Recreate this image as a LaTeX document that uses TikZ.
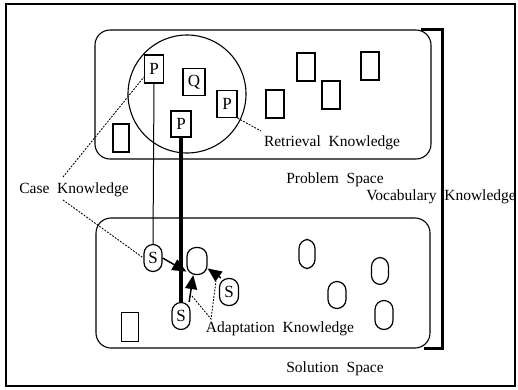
\documentclass[tikz,border=0pt]{standalone}
\usepackage{fontspec}
\setmainfont{Liberation Serif}
\usetikzlibrary{arrows.meta}
\begin{document}
\begin{tikzpicture}[x=1pt,y=-1pt,
  thin line/.style={line width=1pt},
  sq/.style={draw,line width=1.2pt,minimum width=18pt,minimum height=28pt,inner sep=0pt,font=\fontsize{17}{17}\selectfont},
  ov/.style={draw,line width=1.2pt,rounded corners=9pt,minimum width=18pt,minimum height=27pt,inner sep=0pt,font=\fontsize{17}{17}\selectfont},
  lbl/.style={inner sep=0pt,font=\fontsize{15.5}{16}\selectfont},
  dots/.style={line width=0.9pt,dash pattern=on 1.8pt off 1.4pt},
  bigarrow/.style={line width=1.5pt,-{Triangle[length=14pt,width=12pt]}}]
\useasboundingbox (0,0) rectangle (518,389);
\fill[white] (0,0) rectangle (518,389);
\node[draw,line width=1.2pt,minimum width=509pt,minimum height=382pt,inner sep=0pt] (frame) at (260.5,195) {};
% spaces
\node[draw,line width=1.1pt,rounded corners=15pt,minimum width=336pt,minimum height=129pt,inner sep=0pt] (prob) at (263,94.5) {};
\node[draw,line width=1.1pt,rounded corners=15pt,minimum width=334pt,minimum height=130pt,inner sep=0pt] (sol) at (263,283) {};
% bracket
\coordinate (bt) at (421,29.5);
\coordinate (bb) at (424,348);
\draw[line width=3pt] (bt) -| (442,348) -- (bb);
% retrieval circle
\node[draw,circle,line width=1.1pt,minimum size=118pt,inner sep=0pt] (circ) at (187,94) {};
% problem boxes
\node[sq,minimum width=19pt] (p1) at (154,69) {P};
\node[sq,minimum width=22pt,minimum height=27pt] (q) at (194,82) {Q};
\node[sq,minimum width=20pt,minimum height=27pt] (p2) at (227,104) {P};
\node[sq,minimum width=20pt,minimum height=26pt] (p3) at (181,124) {P};
\node[sq,minimum width=16pt] (e1) at (121,138) {};
\node[sq] (e2) at (306,67) {};
\node[sq] (e3) at (370,66) {};
\node[sq] (e4) at (331,95) {};
\node[sq] (e5) at (275,104) {};
% solution ovals
\node[ov,minimum width=16pt,minimum height=29pt] (o1) at (307,254) {};
\node[ov,minimum width=17pt] (o2) at (380,271) {};
\node[ov] (o3) at (337,295) {};
\node[ov,minimum height=29pt] (o4) at (384,315) {};
\node[sq,minimum width=17pt,minimum height=29pt] (e6) at (130,327) {};
\node[ov] (s1) at (153,258) {S};
\node[ov] (s2) at (181,316) {S};
\node[ov,minimum width=19pt] (s3) at (229,292) {S};
\node[ov,minimum width=20pt] (tgt) at (197,261) {};
% labels
\node[lbl] (rk) at (332,143) {Retrieval\ \ Knowledge};
\node[lbl] (ps) at (335,180) {Problem\ \ Space};
\node[lbl] (vk) at (441,197) {Vocabulary\ \ Knowledge};
\node[lbl] (ck) at (74,190) {Case\ \ Knowledge};
\node[lbl] (ss) at (335,369) {Solution\ \ Space};
\node[lbl] (ak) at (280,329) {Adaptation\ \ Knowledge};
% connections
\draw[thin line] (p1.south) -- (s1.north);
\draw[line width=4pt] (p3.south) -- (s2.north);
\draw[bigarrow] (s1.east) -- (tgt.225);
\draw[bigarrow] (s2.60) -- (tgt.255);
\draw[bigarrow] (s3.120) -- (tgt.325);
% dotted
\coordinate (ck1) at (63,177);
\coordinate (ck2) at (63,200);
\draw[dots] (ck1) -- (p1.west |- 0,77);
\draw[dots] (ck2) -- (s1.west);
\coordinate (rk1) at (261,131);
\draw[dots] (p2.south east) -- (rk1);
\coordinate (ak1) at (211,319);
\coordinate (ak2) at (192,296);
\coordinate (ak3) at (216,281);
\draw[dots] (ak2) -- (ak1) -- (ak3);
\end{tikzpicture}
\end{document}
